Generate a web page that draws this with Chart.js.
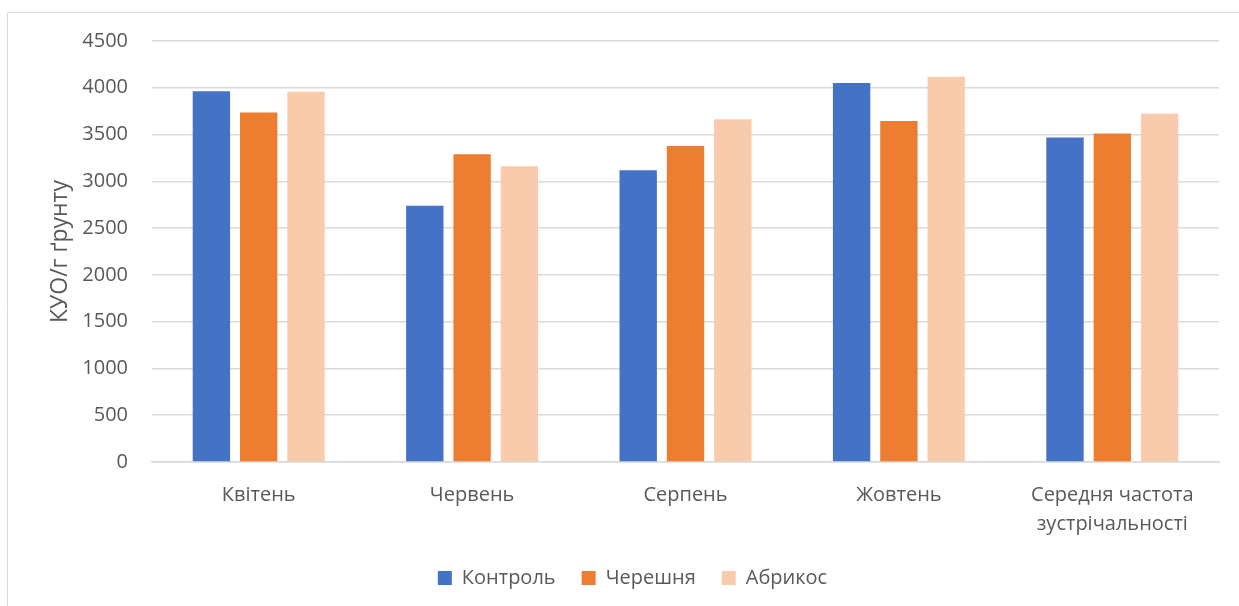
<!DOCTYPE html>
<html>
<head>
<meta charset="utf-8">
<script src="https://cdn.jsdelivr.net/npm/chart.js@4"></script>
<style>
  html, body { margin: 0; padding: 0; background: #ffffff; }
  #wrap { width: 1239px; height: 606px; }
</style>
</head>
<body>
<div id="wrap"><canvas id="chart" width="1239" height="606"></canvas></div>
<script>
// Місяці відбору проб та середнє значення
const categories = ['Квітень', 'Червень', 'Серпень', 'Жовтень', ['Середня частота', 'зустрічальності']];

// КУО/г ґрунту за варіантами
const kontrol  = [3964, 2739, 3118, 4050, 3468];
const chereshnia = [3736, 3289, 3378, 3646, 3512];
const abrykos  = [3957, 3161, 3664, 4118, 3725];

const yTicks = [0, 500, 1000, 1500, 2000, 2500, 3000, 3500, 4000, 4500];

const textColor = '#595959';
const gridColor = '#d9d9d9';
const fontFamily = '"Open Sans", "Noto Sans", sans-serif';

// Рамка області діаграми (видно лише лівий та верхній край)
const frame = {
  id: 'frame',
  beforeDraw(chart) {
    const ctx = chart.ctx;
    ctx.save();
    ctx.fillStyle = '#ffffff';
    ctx.fillRect(0, 0, chart.width, chart.height);
    ctx.strokeStyle = gridColor;
    ctx.lineWidth = 1;
    ctx.beginPath();
    ctx.moveTo(7.5, chart.height);
    ctx.lineTo(7.5, 12.5);
    ctx.lineTo(chart.width, 12.5);
    ctx.stroke();
    ctx.restore();
  }
};

// Легенда трохи зміщена праворуч від центру полотна
const legendShift = {
  id: 'legendShift',
  afterLayout(chart) {
    const lg = chart.legend;
    if (lg) { lg.left += 23; lg.right += 23; }
  }
};

new Chart(document.getElementById('chart'), {
  type: 'bar',
  data: {
    labels: categories,
    datasets: [
      { label: 'Контроль', data: kontrol, backgroundColor: '#4472C4' },
      { label: 'Черешня', data: chereshnia, backgroundColor: '#ED7D31' },
      { label: 'Абрикос', data: abrykos, backgroundColor: '#F8CBAD' }
    ]
  },
  options: {
    responsive: false,
    animation: false,
    devicePixelRatio: 1,
    layout: { padding: { top: 41, right: 20, bottom: 8, left: 0 } },
    datasets: {
      bar: { categoryPercentage: 0.665, barPercentage: 0.79 }
    },
    scales: {
      x: {
        grid: { display: false },
        border: { display: true, color: gridColor, width: 1.5 },
        ticks: {
          color: textColor,
          font: { family: fontFamily, size: 20, lineHeight: 1.45 },
          padding: 11,
          maxRotation: 0,
          autoSkip: false
        },
        afterFit(scale) { scale.height = 80; }
      },
      y: {
        min: 0,
        max: 4500,
        afterBuildTicks(scale) { scale.ticks = yTicks.map(v => ({ value: v })); },
        grid: { color: gridColor, lineWidth: 1.5, drawTicks: false },
        border: { display: false },
        ticks: {
          color: textColor,
          font: { family: fontFamily, size: 20 },
          padding: 24,
          callback: (v) => String(v)
        },
        title: {
          display: true,
          text: 'КУО/г ґрунту',
          color: textColor,
          font: { family: fontFamily, size: 23 },
          padding: { top: 47, bottom: 0 }
        },
        afterFit(scale) { scale.width = 152; }
      }
    },
    plugins: {
      legend: {
        position: 'bottom',
        labels: {
          color: textColor,
          font: { family: fontFamily, size: 20 },
          boxWidth: 14,
          boxHeight: 14,
          padding: 26
        }
      },
      tooltip: { enabled: false }
    }
  },
  plugins: [frame, legendShift]
});
</script>
</body>
</html>
